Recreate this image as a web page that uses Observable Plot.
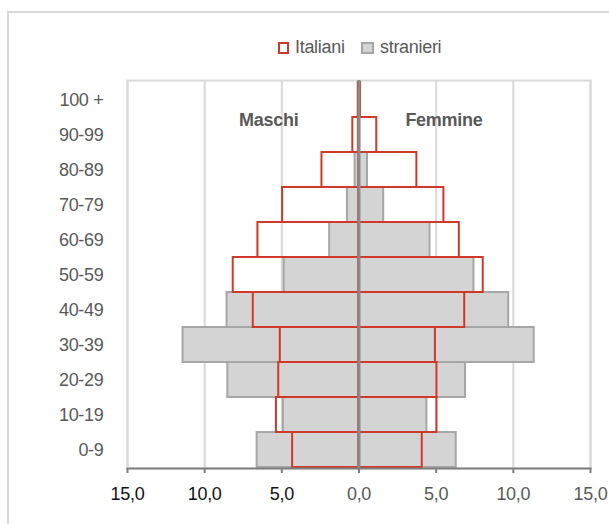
<!DOCTYPE html>
<html>
<head>
<meta charset="utf-8">
<script src="https://cdn.jsdelivr.net/npm/d3@7"></script>
<script src="https://cdn.jsdelivr.net/npm/@observablehq/plot@0.6"></script>
<style>
  html, body { margin: 0; padding: 0; background: #fff; overflow: hidden; }
  #wrap { position: relative; width: 609px; height: 524px; overflow: hidden;
          font-family: "Liberation Sans", Arial, sans-serif; }
  #outer { position: absolute; left: 7px; top: 11px; width: 700px; height: 600px;
           border: 2px solid #d9d9d9; box-sizing: border-box; }
  #chart { position: absolute; left: 0; top: 0; }
  .leg { position: absolute; top: 37px; display: flex; align-items: center; font-size: 18px; color: #595959; letter-spacing: -0.3px; }
  .sw { width: 11px; height: 12px; box-sizing: border-box; margin-right: 6px; }
</style>
</head>
<body>
<div id="wrap">
  <div id="outer"></div>
  <div id="chart"></div>
  <div class="leg" style="left:278px"><div class="sw" style="border:2px solid #cf3a28;background:#fff"></div><span>Italiani</span></div>
  <div class="leg" style="left:361px"><div class="sw" style="border:2px solid #a6a6a6;background:#d4d4d4;width:13px"></div><span>stranieri</span></div>
</div>
<script>
const ages = ["0-9","10-19","20-29","30-39","40-49","50-59","60-69","70-79","80-89","90-99","100 +"];
const italianiM = [4.3, 5.35, 5.2, 5.1, 6.85, 8.15, 6.55, 4.95, 2.4, 0.4, 0.05];
const italianiF = [4.1, 5.05, 5.05, 4.95, 6.85, 8.05, 6.5, 5.5, 3.75, 1.15, 0.1];
const stranieriM = [6.6, 4.9, 8.5, 11.4, 8.55, 4.85, 1.9, 0.75, 0.25, 0.05, 0];
const stranieriF = [6.3, 4.4, 6.9, 11.35, 9.7, 7.45, 4.6, 1.6, 0.55, 0.05, 0];
const xTicksLeft = [-15, -10, -5];
const xTicksRight = [0, 5, 10, 15];
const sexLabels = [{text: "Maschi", x: -5.85}, {text: "Femmine", x: 5.5}];

const rows = (vals, sign) => ages.map((a, i) => ({age: a, v: sign * vals[i]}));
const straM = rows(stranieriM, -1), straF = rows(stranieriF, 1);
const itaM = rows(italianiM, -1), itaF = rows(italianiF, 1);
const fmt = d => Math.abs(d).toFixed(1).replace(".", ",");
const FONT = '"Liberation Sans", Arial, sans-serif';

const chart = Plot.plot({
  width: 609, height: 524,
  marginLeft: 127, marginRight: 19, marginTop: 80, marginBottom: 56,
  style: {fontFamily: FONT, fontSize: "18px", color: "#595959", background: "transparent", letterSpacing: "-0.3px"},
  x: {domain: [-15, 15]},
  y: {domain: ages.slice().reverse(), padding: 0},
  marks: [
    Plot.frame({stroke: "#d9d9d9", strokeWidth: 2}),
    Plot.gridX([...xTicksLeft, ...xTicksRight], {stroke: "#d9d9d9", strokeOpacity: 1, strokeWidth: 2}),
    Plot.barX(straM, {y: "age", x1: 0, x2: "v", fill: "#d4d4d4", stroke: "#a6a6a6", strokeWidth: 2}),
    Plot.barX(straF, {y: "age", x1: 0, x2: "v", fill: "#d4d4d4", stroke: "#a6a6a6", strokeWidth: 2}),
    Plot.barX(itaM, {y: "age", x1: 0, x2: "v", fill: "none", stroke: "#cf3a28", strokeWidth: 2}),
    Plot.barX(itaF, {y: "age", x1: 0, x2: "v", fill: "none", stroke: "#cf3a28", strokeWidth: 2}),
    Plot.ruleX([0], {stroke: "#8a8a8a", strokeWidth: 3}),
    Plot.frame({anchor: "bottom", stroke: "#808080", strokeWidth: 2}),
    Plot.axisY({tickSize: 0, tickPadding: 24, label: null, fill: "#595959"}),
    Plot.axisX({ticks: xTicksLeft, tickFormat: fmt, tickSize: 5, tickPadding: 14, label: null, stroke: "#808080", strokeWidth: 2, fill: "#111"}),
    Plot.axisX({ticks: xTicksRight, tickFormat: fmt, tickSize: 5, tickPadding: 14, label: null, stroke: "#808080", strokeWidth: 2, fill: "#595959"}),
    Plot.text(sexLabels, {x: "x", y: () => "90-99", dy: -15, text: "text", fontWeight: "bold", fill: "#595959", fontSize: 18})
  ]
});
document.getElementById("chart").appendChild(chart);
</script>
</body>
</html>
